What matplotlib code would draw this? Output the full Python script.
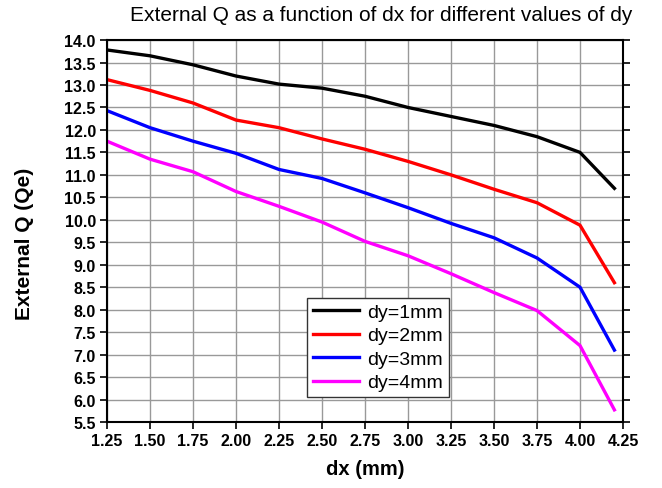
import matplotlib
matplotlib.use('Agg')
import matplotlib.pyplot as plt

plt.rcParams['font.family'] = ['Liberation Sans', 'DejaVu Sans']

dx = [1.25, 1.5, 1.75, 2.0, 2.25, 2.5, 2.75, 3.0, 3.25, 3.5, 3.75, 4.0, 4.2]
q_dy1 = [13.78, 13.65, 13.45, 13.2, 13.02, 12.93, 12.75, 12.5, 12.3, 12.1, 11.85, 11.5, 10.7]
q_dy2 = [13.12, 12.88, 12.6, 12.22, 12.05, 11.8, 11.57, 11.3, 11.0, 10.68, 10.38, 9.88, 8.6]
q_dy3 = [12.43, 12.05, 11.75, 11.48, 11.12, 10.92, 10.6, 10.27, 9.92, 9.6, 9.15, 8.5, 7.1]
q_dy4 = [11.75, 11.35, 11.07, 10.63, 10.3, 9.95, 9.52, 9.2, 8.8, 8.38, 7.98, 7.2, 5.77]
labels = ['dy=1mm', 'dy=2mm', 'dy=3mm', 'dy=4mm']
colors = ['#000000', '#ff0000', '#0000ff', '#ff00ff']

xticks = [1.25 + 0.25 * i for i in range(13)]
yticks = [5.5 + 0.5 * i for i in range(18)]

fig = plt.figure(figsize=(6.62, 4.89), dpi=100)
ax = fig.add_axes([0.1616, 0.135, 0.7795, 0.781])

for q, lab, c in zip([q_dy1, q_dy2, q_dy3, q_dy4], labels, colors):
    ax.plot(dx, q, color=c, lw=2.4, label=lab)

ax.set_xlim(1.25, 4.25)
ax.set_ylim(5.5, 14.0)
ax.set_xticks(xticks)
ax.set_xticklabels(['%.2f' % t for t in xticks], fontweight='bold', fontsize=11.5)
ax.set_yticks(yticks)
ax.set_yticklabels(['%.1f' % t for t in yticks], fontweight='bold', fontsize=11.5)
ax.grid(True, color='#999999', lw=1)
ax.set_axisbelow(True)
ax.tick_params(axis='both', direction='out', length=5, width=1.2, pad=3)
ax.tick_params(axis='y', right=True)
for s in ax.spines.values():
    s.set_linewidth(1.5)

# title sits a bit right of the axes centre in the original
fig.text(0.576, 0.968, 'External Q as a function of dx for different values of dy',
         fontsize=15, ha='center', va='center')
ax.set_xlabel('dx (mm)', fontsize=14.5, fontweight='bold', labelpad=8)
ax.set_ylabel('External Q (Qe)', fontsize=15, fontweight='bold')
ax.yaxis.set_label_coords(-0.142, 0.47)

leg = ax.legend(loc='lower left', bbox_to_anchor=(0.387, 0.065), borderaxespad=0,
                fontsize=14, fancybox=False, framealpha=1, edgecolor='#333333',
                handlelength=2.4, handletextpad=0.4, borderpad=0.3, labelspacing=0.3)
leg.get_frame().set_linewidth(1.0)

fig.savefig('out.png')
